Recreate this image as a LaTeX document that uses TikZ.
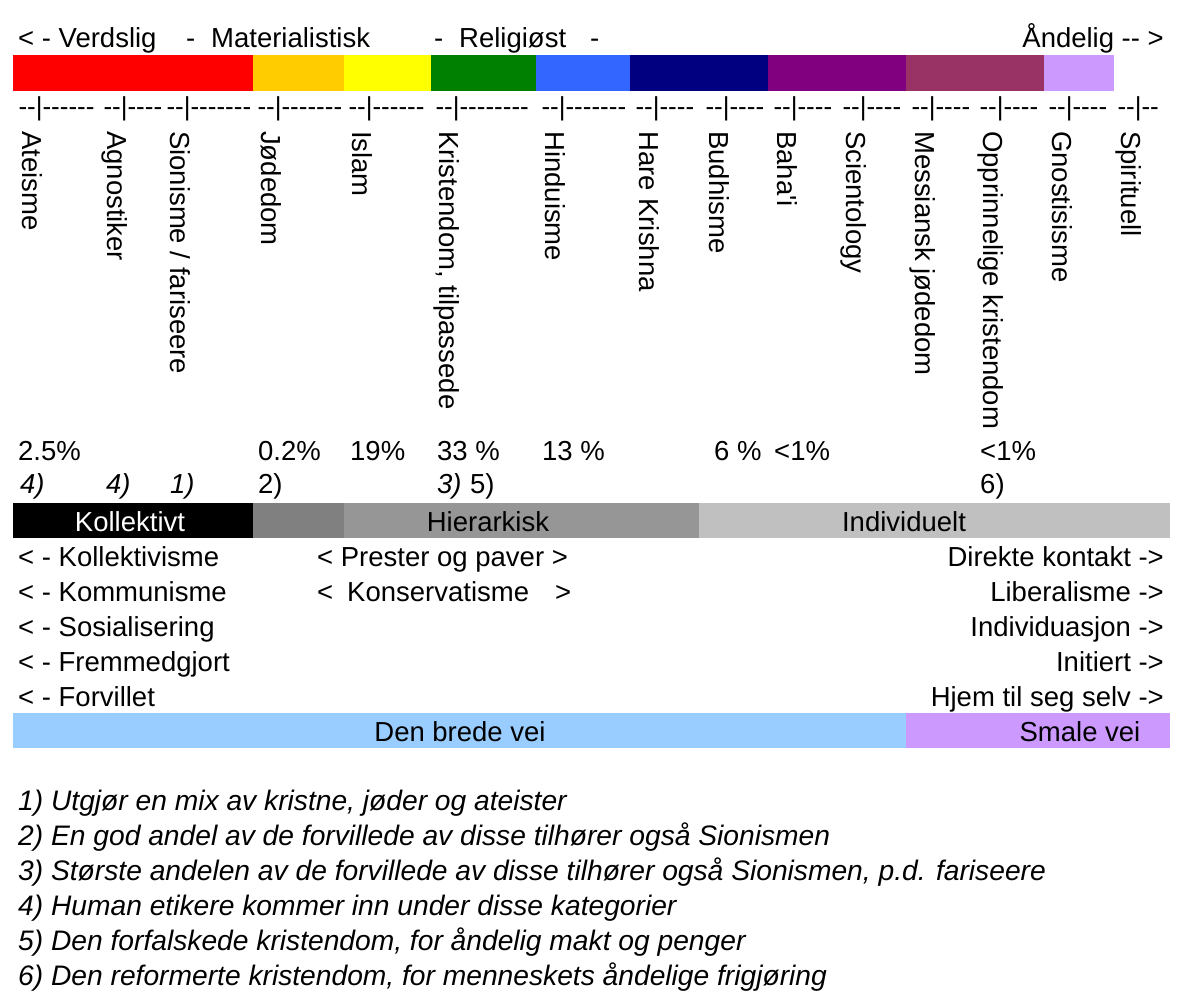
\documentclass[tikz,border=0pt]{standalone}
\usepackage{fontspec}
\setmainfont{Liberation Sans}[Ligatures=TeXOff]
\definecolor{cRed}{HTML}{FF0000}
\definecolor{cOrange}{HTML}{FFCC00}
\definecolor{cYellow}{HTML}{FFFF00}
\definecolor{cGreen}{HTML}{008000}
\definecolor{cBlue}{HTML}{3366FF}
\definecolor{cNavy}{HTML}{000080}
\definecolor{cPurple}{HTML}{800080}
\definecolor{cMaroon}{HTML}{993366}
\definecolor{cLav}{HTML}{CC99FF}
\definecolor{cSky}{HTML}{99CCFF}
\definecolor{gDark}{HTML}{808080}
\definecolor{gMid}{HTML}{969696}
\definecolor{gLight}{HTML}{C0C0C0}
\newcommand\tickseg[3]{%
  \node[ticktxt] (#1) at (#2-20.7,116) {--|#3};}
\begin{document}
\begin{tikzpicture}[x=1pt,y=-1pt,
  txt/.style={inner sep=0pt, font=\fontsize{27.5}{33}\selectfont},
  ticktxt/.style={inner sep=0pt, anchor=base west, font=\fontsize{26}{30}\selectfont},
  vlab/.style={txt, rotate=-90, anchor=base west},
  lft/.style={txt, anchor=base west},
  rgt/.style={txt, anchor=base east},
  ctr/.style={txt, anchor=base},
  ital/.style={txt, anchor=base west, font=\fontsize{27.5}{33}\selectfont\itshape},
  foot/.style={txt, anchor=base west, font=\fontsize{28.2}{33}\selectfont\itshape}]
\useasboundingbox (0,0) rectangle (1186,1006);
\fill[white] (0,0) rectangle (1186,1006);

% header
\node[lft] (hVerd) at (18,48) {< - Verdslig};
\node[lft] (hD1) at (186,48) {-};
\node[lft] (hMat) at (211,48) {Materialistisk};
\node[lft] (hD2) at (434,48) {-};
\node[lft] (hRel) at (459,48) {Religiøst};
\node[lft] (hD3) at (590,48) {-};
\node[rgt] (hAnd) at (1164,48) {Åndelig -- >};

% colour bar
\fill[cRed] (13,55) rectangle (253,91);
\fill[cOrange] (253,55) rectangle (344,91);
\fill[cYellow] (344,55) rectangle (431,91);
\fill[cGreen] (431,55) rectangle (536,91);
\fill[cBlue] (536,55) rectangle (630,91);
\fill[cNavy] (630,55) rectangle (768,91);
\fill[cPurple] (768,55) rectangle (906,91);
\fill[cMaroon] (906,55) rectangle (1044,91);
\fill[cLav] (1044,55) rectangle (1114,91);

% tick line
\tickseg{t1}{39}{------}
\tickseg{t2}{124}{----}
\tickseg{t3}{187}{-------}
\tickseg{t4}{278}{-------}
\tickseg{t5}{369}{------}
\tickseg{t6}{456}{--------}
\tickseg{t7}{562}{-------}
\tickseg{t8}{656}{----}
\tickseg{t9}{726}{----}
\tickseg{t10}{794}{----}
\tickseg{t11}{863}{----}
\tickseg{t12}{932}{----}
\tickseg{t13}{1000}{----}
\tickseg{t14}{1069}{----}
\tickseg{t15}{1138}{--}

% vertical labels
\node[vlab] (vAte) at (39-17,131) {Ateisme};
\node[vlab] (vAgn) at (124-17,131) {Agnostiker};
\node[vlab] (vSio) at (187-17,131) {Sionisme / fariseere};
\node[vlab] (vJod) at (278-17,131) {Jødedom};
\node[vlab] (vIsl) at (369-17,131) {Islam};
\node[vlab] (vKri) at (456-17,131) {Kristendom, tilpassede};
\node[vlab] (vHin) at (562-17,131) {Hinduisme};
\node[vlab] (vHar) at (656-17,131) {Hare Krishna};
\node[vlab] (vBud) at (726-17,131) {Budhisme};
\node[vlab] (vBah) at (794-17,131) {Baha'i};
\node[vlab] (vSci) at (863-17,131) {Scientology};
\node[vlab] (vMes) at (932-17,131) {Messiansk jødedom};
\node[vlab] (vOpp) at (1000-17,131) {Opprinnelige kristendom};
\node[vlab] (vGno) at (1069-17,131) {Gnostisisme};
\node[vlab] (vSpi) at (1138-17,131) {Spirituell};

% percentages
\node[lft] (p1) at (18,460) {2.5\%};
\node[lft] (p2) at (258,460) {0.2\%};
\node[lft] (p3) at (350,460) {19\%};
\node[lft] (p4) at (437,460) {33 \%};
\node[lft] (p5) at (542,460) {13 \%};
\node[lft] (p6) at (714,460) {6 \%};
\node[lft] (p7) at (774,460) {<1\%};
\node[lft] (p8) at (980,460) {<1\%};

% note references
\node[ital] (n1) at (20,493) {4)};
\node[ital] (n2) at (106,493) {4)};
\node[ital] (n3) at (170,493) {1)};
\node[lft] (n4) at (258,493) {2)};
\node[ital] (n5) at (437,493) {3)};
\node[lft] (n6) at (470,493) {5)};
\node[lft] (n7) at (980,493) {6)};

% grey band
\fill[black] (13,503) rectangle (253,538);
\fill[gDark] (253,503) rectangle (344,538);
\fill[gMid] (344,503) rectangle (699,538);
\fill[gLight] (699,503) rectangle (1170,538);
\node[ctr, text=white] (gKol) at (130,531) {Kollektivt};
\node[ctr] (gHie) at (488,531) {Hierarkisk};
\node[ctr] (gInd) at (904,531) {Individuelt};

% left list
\node[lft] (l1) at (18,566) {< - Kollektivisme};
\node[lft] (l2) at (18,601) {< - Kommunisme};
\node[lft] (l3) at (18,636) {< - Sosialisering};
\node[lft] (l4) at (18,671) {< - Fremmedgjort};
\node[lft] (l5) at (18,706) {< - Forvillet};

% middle list
\node[lft] (m1) at (317,566) {< Prester og paver >};
\node[lft] (m2a) at (317,601) {<};
\node[lft] (m2) at (347,601) {Konservatisme};
\node[lft] (m2b) at (555,601) {>};

% right list
\node[rgt] (r1) at (1164,566) {Direkte kontakt ->};
\node[rgt] (r2) at (1164,601) {Liberalisme ->};
\node[rgt] (r3) at (1164,636) {Individuasjon ->};
\node[rgt] (r4) at (1164,671) {Initiert ->};
\node[rgt] (r5) at (1164,706) {Hjem til seg selv ->};

% road band
\fill[cSky] (13,713) rectangle (906,748);
\fill[cLav] (906,713) rectangle (1170,748);
\node[ctr] (bBred) at (460,741) {Den brede vei};
\node[ctr] (bSmal) at (1080,741) {Smale vei};

% footnotes
\node[foot] (f1) at (18,810) {1) Utgjør en mix av kristne, jøder og ateister};
\node[foot] (f2) at (18,845) {2) En god andel av de forvillede av disse tilhører også Sionismen};
\node[foot] (f3) at (18,880) {3) Største andelen av de forvillede av disse tilhører også Sionismen, p.d. fariseere};
\node[foot] (f4) at (18,915) {4) Human etikere kommer inn under disse kategorier};
\node[foot] (f5) at (18,950) {5) Den forfalskede kristendom, for åndelig makt og penger};
\node[foot] (f6) at (18,985) {6) Den reformerte kristendom, for menneskets åndelige frigjøring};
\end{tikzpicture}
\end{document}
